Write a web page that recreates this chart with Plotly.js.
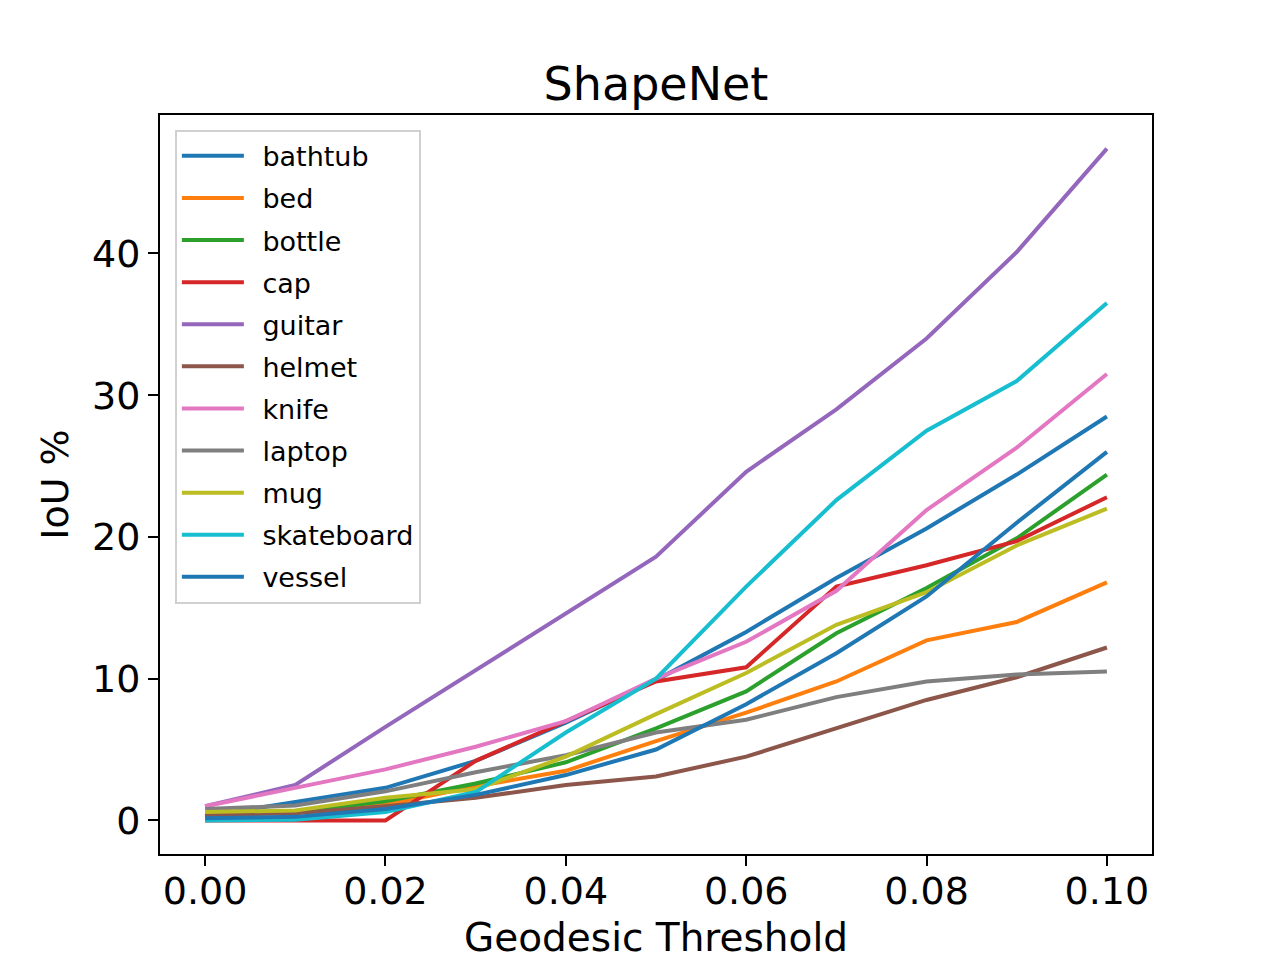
<!DOCTYPE html>
<html>
<head>
<meta charset="utf-8">
<script src="https://cdn.plot.ly/plotly-3.0.1.min.js"></script>
<style>
  html, body { margin: 0; padding: 0; background: #fff; }
  #chart { width: 1280px; height: 960px; }
</style>
</head>
<body>
<div id="chart"></div>
<script>
// geodesic thresholds on the x axis
const thresholds = [0.00, 0.01, 0.02, 0.03, 0.04, 0.05, 0.06, 0.07, 0.08, 0.09, 0.10];

// IoU % per category
const bathtub    = [0.3, 1.3, 2.3, 4.2, 6.9, 9.9, 13.3, 17.1, 20.6, 24.4, 28.5];
const bed        = [0.4, 0.55, 1.1, 2.4, 3.5, 5.6, 7.6, 9.8, 12.7, 14.0, 16.8];
const bottle     = [0.45, 0.6, 1.35, 2.6, 4.1, 6.5, 9.1, 13.2, 16.4, 19.9, 24.4];
const cap        = [0.0, 0.0, 0.0, 4.2, 7.0, 9.8, 10.8, 16.5, 18.0, 19.7, 22.8];
const guitar     = [1.0, 2.5, 6.6, 10.6, 14.6, 18.6, 24.6, 29.0, 34.0, 40.1, 47.4];
const helmet     = [0.4, 0.5, 1.0, 1.6, 2.5, 3.1, 4.5, 6.5, 8.5, 10.1, 12.2];
const knife      = [1.0, 2.3, 3.6, 5.2, 7.0, 10.0, 12.6, 16.2, 21.9, 26.3, 31.5];
const laptop     = [0.8, 1.05, 2.05, 3.4, 4.6, 6.2, 7.1, 8.7, 9.8, 10.3, 10.5];
const mug        = [0.6, 0.7, 1.6, 2.2, 4.5, 7.5, 10.4, 13.8, 16.1, 19.4, 22.0];
const skateboard = [0.0, 0.05, 0.6, 2.0, 6.2, 10.0, 16.5, 22.6, 27.5, 31.0, 36.5];
const vessel     = [0.15, 0.25, 0.8, 1.8, 3.2, 5.0, 8.2, 11.8, 15.8, 21.0, 26.0];

const names  = ['bathtub', 'bed', 'bottle', 'cap', 'guitar', 'helmet', 'knife', 'laptop', 'mug', 'skateboard', 'vessel'];
const series = [bathtub, bed, bottle, cap, guitar, helmet, knife, laptop, mug, skateboard, vessel];
const colors = ['#1f77b4', '#ff7f0e', '#2ca02c', '#d62728', '#9467bd', '#8c564b',
                '#e377c2', '#7f7f7f', '#bcbd22', '#17becf', '#1f77b4'];

const font = 'DejaVu Sans, sans-serif';

const data = series.map((ys, i) => ({
  x: thresholds,
  y: ys,
  // en space keeps the gap between legend line and label
  name: '\u2002' + names[i],
  legendgroup: names[i],
  type: 'scatter',
  mode: 'lines',
  line: {color: colors[i], width: 4}
}));

const axisCommon = {
  showgrid: false,
  zeroline: false,
  showline: true,
  mirror: true,
  linecolor: '#000',
  linewidth: 2,
  ticks: 'outside',
  ticklen: 10,
  tickwidth: 2,
  tickcolor: '#000',
  tickfont: {family: font, size: 38, color: '#000'}
};

const layout = {
  width: 1280,
  height: 960,
  paper_bgcolor: '#fff',
  plot_bgcolor: '#fff',
  margin: {l: 160, r: 128, t: 115, b: 106},
  title: {
    text: 'ShapeNet',
    font: {family: font, size: 46, color: '#000'},
    x: 0.5125, xanchor: 'center',
    y: 0.913, yanchor: 'middle'
  },
  xaxis: Object.assign({}, axisCommon, {
    range: [-0.005, 0.105],
    tickvals: [0, 0.02, 0.04, 0.06, 0.08, 0.10],
    ticktext: ['0.00', '0.02', '0.04', '0.06', '0.08', '0.10'],
    ticklabelstandoff: -8,
    title: {text: 'Geodesic Threshold', font: {family: font, size: 39, color: '#000'}, standoff: 18}
  }),
  yaxis: Object.assign({}, axisCommon, {
    range: [-2.37, 49.77],
    tickvals: [0, 10, 20, 30, 40],
    title: {text: 'IoU %', font: {family: font, size: 38, color: '#000'}, standoff: 12}
  }),
  legend: {
    x: 0.015, y: 0.98,
    xanchor: 'left', yanchor: 'top',
    bgcolor: 'rgba(255,255,255,0.8)',
    bordercolor: '#d0d0d0',
    borderwidth: 2,
    font: {family: font, size: 27, color: '#000'},
    itemwidth: 62,
    tracegroupgap: 4
  },
  showlegend: true
};

Plotly.newPlot('chart', data, layout, {staticPlot: true});
</script>
</body>
</html>
